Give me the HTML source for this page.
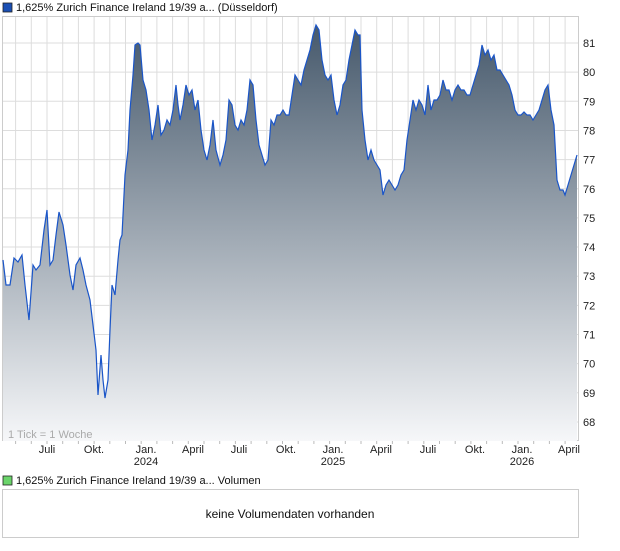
<!DOCTYPE html>
<html><head><meta charset="utf-8"><style>
body{margin:0;background:#fff;font-family:"Liberation Sans",sans-serif;}
</style></head><body>
<svg width="620" height="546" xmlns="http://www.w3.org/2000/svg" font-family="Liberation Sans, sans-serif">
<defs><linearGradient id="g" gradientUnits="userSpaceOnUse" x1="0" y1="20" x2="0" y2="441">
<stop offset="0" stop-color="#44576a"/><stop offset="1" stop-color="#f6f7f9"/></linearGradient></defs>
<rect x="3" y="3" width="9" height="9" fill="#1a4fb4" stroke="#222" stroke-width="0.8"/>
<text x="16" y="11" font-size="11" fill="#111">1,625% Zurich Finance Ireland 19/39 a... (Düsseldorf)</text>
<rect x="2.5" y="16.5" width="576" height="424" fill="#fff" stroke="#ccc"/>
<g stroke="#ddd" stroke-width="1" id="grid"></g>
<path id="area" fill="url(#g)" stroke="none"/>
<path id="line" fill="none" stroke="#1a55c8" stroke-width="1.2"/>
<text x="8" y="438" font-size="11" fill="#aaa">1 Tick = 1 Woche</text>
<g id="ylab" font-size="11" fill="#222"></g>
<g id="xt" stroke="#bbb"></g>
<g font-size="11" fill="#222" text-anchor="middle">
<text x="47" y="453">Juli</text><text x="94" y="453">Okt.</text><text x="146" y="453">Jan.</text><text x="146" y="465">2024</text>
<text x="193" y="453">April</text><text x="239" y="453">Juli</text><text x="286" y="453">Okt.</text><text x="333" y="453">Jan.</text><text x="333" y="465">2025</text>
<text x="381" y="453">April</text><text x="428" y="453">Juli</text><text x="475" y="453">Okt.</text><text x="522" y="453">Jan.</text><text x="522" y="465">2026</text><text x="569" y="453">April</text>
</g>
<rect x="3" y="476" width="9" height="9" fill="#6ad46a" stroke="#222" stroke-width="0.8"/>
<text x="16" y="484" font-size="11" fill="#111">1,625% Zurich Finance Ireland 19/39 a... Volumen</text>
<rect x="2.5" y="489.5" width="576" height="48" fill="#fff" stroke="#ccc"/>
<text x="290" y="518" font-size="12" fill="#111" text-anchor="middle">keine Volumendaten vorhanden</text>
</svg>
<script>
var ns="http://www.w3.org/2000/svg";
var grid=document.getElementById('grid'),yl=document.getElementById('ylab'),xt=document.getElementById('xt');
for(var v=68;v<=81;v++){var y=43+(81-v)*29.15;
var l=document.createElementNS(ns,'line');l.setAttribute('x1',3);l.setAttribute('x2',578);l.setAttribute('y1',y);l.setAttribute('y2',y);grid.appendChild(l);
var t=document.createElementNS(ns,'text');t.setAttribute('x',583);t.setAttribute('y',y+4);t.textContent=v;yl.appendChild(t);}
for(var x=47-2*15.7;x<578;x+=15.7){var l=document.createElementNS(ns,'line');l.setAttribute('x1',x);l.setAttribute('x2',x);l.setAttribute('y1',17);l.setAttribute('y2',441);grid.appendChild(l);
var k=document.createElementNS(ns,'line');k.setAttribute('x1',x);k.setAttribute('x2',x);k.setAttribute('y1',441);k.setAttribute('y2',444);xt.appendChild(k);}
var p=[3,260,6,285,10,285,14,258,18,262,22,255,25,285,29,320,33,265,36,270,40,265,44,230,47,210,50,265,53,260,56,235,59,212,63,225,66,245,70,275,73,290,76,265,80,258,83,270,86,285,90,300,93,325,96,350,98,395,101,355,103,380,105,398,108,380,110,330,112,285,115,295,118,260,120,240,122,235,125,175,128,150,130,110,133,75,135,45,138,43,140,45,143,80,146,90,149,110,152,140,155,125,158,105,161,135,164,130,167,120,170,125,173,110,176,85,178,105,180,120,183,105,186,85,189,95,192,90,195,110,198,100,201,130,204,150,207,160,210,145,213,120,216,150,220,165,223,155,226,140,229,100,232,105,235,125,238,130,241,120,244,125,247,110,250,80,253,85,256,120,259,145,262,155,265,165,268,160,271,120,274,125,277,115,280,115,283,110,286,115,289,115,292,95,295,75,298,80,301,85,304,70,307,60,310,50,313,35,316,25,319,30,322,60,325,75,328,80,331,75,334,100,337,115,340,105,343,85,346,80,349,60,352,45,355,30,358,35,360,35,362,110,365,140,368,160,371,150,374,160,377,165,380,170,383,195,386,185,389,180,392,185,395,190,398,185,401,175,404,170,407,140,410,120,413,100,416,110,419,100,422,105,425,115,428,85,431,110,434,100,437,100,440,95,443,80,446,90,449,90,452,100,455,90,458,85,461,90,464,90,467,95,470,95,473,85,476,75,479,65,482,45,485,55,488,50,491,60,494,55,497,70,500,70,503,75,506,80,509,85,512,95,515,110,518,115,521,115,524,112,527,115,530,115,533,120,536,115,539,110,542,100,545,90,548,85,551,110,554,125,557,180,560,190,563,190,565,195,568,185,571,175,574,165,577,155];
var d='';for(var i=0;i<p.length;i+=2)d+=(i?'L':'M')+p[i]+','+p[i+1];
document.getElementById('line').setAttribute('d',d);
document.getElementById('area').setAttribute('d',d+'L577,441L3,441Z');
</script>
</body></html>
